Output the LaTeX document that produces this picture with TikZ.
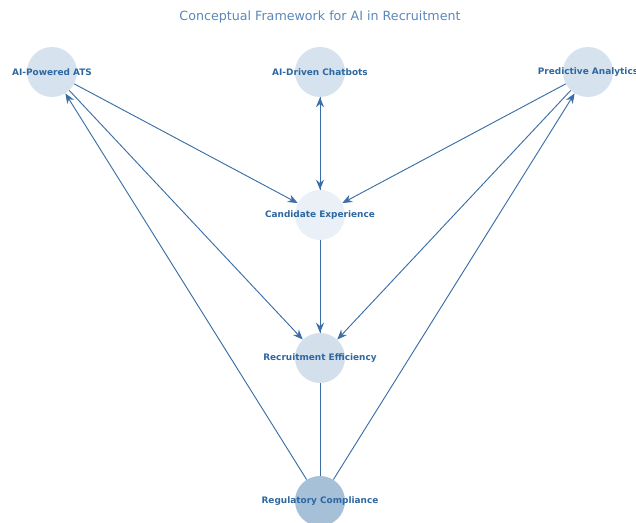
\documentclass[tikz,border=0pt]{standalone}
\usepackage{fontspec}
\setsansfont{DejaVu Sans}
\usetikzlibrary{arrows.meta,backgrounds}
\definecolor{edgeblue}{HTML}{3A6EA5}
\definecolor{labelblue}{HTML}{2E67A0}
\definecolor{titleblue}{HTML}{5A88B8}
\definecolor{topfill}{HTML}{D6E2EE}
\definecolor{cefill}{HTML}{E9F0F7}
\definecolor{refill}{HTML}{D3DFEB}
\definecolor{rcfill}{HTML}{A6C0D8}

\begin{document}
\begin{tikzpicture}[x=0.75pt, y=-0.75pt, font=\sffamily,
  hub/.style={circle, minimum size=37.5pt, inner sep=0pt},
  lbl/.style={font=\sffamily\bfseries\fontsize{6.7}{8}\selectfont, text=labelblue},
  link/.style={-{Stealth[length=7.5pt,width=6pt]}, edgeblue, line width=0.7pt}]
  \useasboundingbox (0,0) rectangle (636,523);
  % title
  \node[font=\sffamily\fontsize{9.5}{11}\selectfont, text=titleblue] (title) at (320,17) {Conceptual Framework for AI in Recruitment};
  % technologies (top row)
  \foreach \n/\x/\t in {ats/52/AI-Powered ATS, bot/320/AI-Driven Chatbots, pred/588/Predictive Analytics}{
    \node[hub, fill=topfill, label={[lbl]center:\t}] (\n) at (\x,72) {};}
  % outcomes down the middle
  \node[hub, fill=cefill, label={[lbl]center:Candidate Experience}] (ce) at (320,215) {};
  \node[hub, fill=refill, label={[lbl]center:Recruitment Efficiency}] (re) at (320,358) {};
  \node[hub, fill=rcfill, label={[lbl]center:Regulatory Compliance}] (rc) at (320,501) {};
  % links, kept under the circles
  \begin{scope}[on background layer]
    \foreach \a/\b in {ats/ce, ats/re, bot/ce, pred/ce, pred/re, ce/re, rc/ats, rc/bot, rc/pred}{
      \draw[link] (\a) -- (\b);}
  \end{scope}
\end{tikzpicture}
\end{document}
